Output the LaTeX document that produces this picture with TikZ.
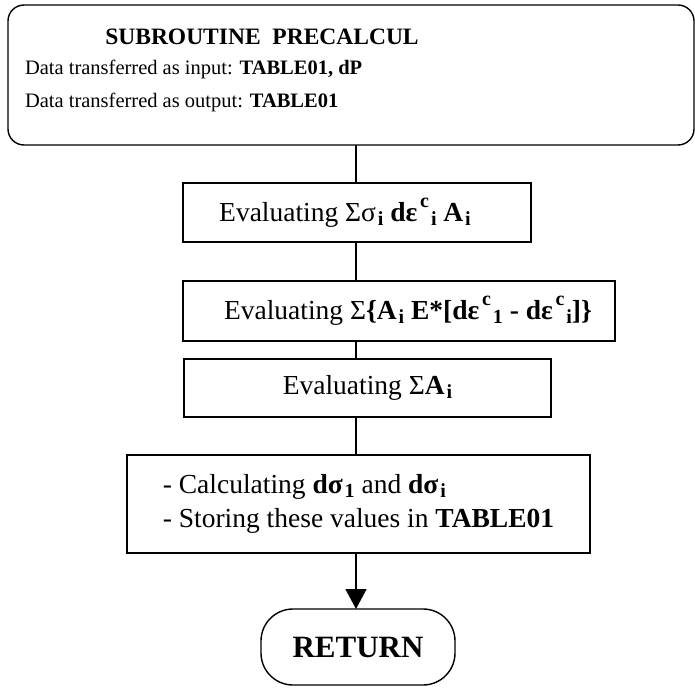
\documentclass[tikz,border=0pt]{standalone}
\usepackage{fontspec}
\setmainfont{Liberation Serif}
\usetikzlibrary{arrows.meta}

% subscript / superscript helpers for the formulas (bold, set a little apart)
\newcommand\lw[1]{\hspace{0.07em}\raisebox{-0.15em}{\fontsize{20}{20}\selectfont\bfseries #1}}
\newcommand\hi[1]{\hspace{0.1em}\raisebox{0.5em}{\fontsize{20}{20}\selectfont\bfseries #1}}

\begin{document}
\begin{tikzpicture}[x=1pt,y=-1pt,
  every node/.style={inner sep=0pt, outer sep=0pt},
  frame/.style={draw, line width=1.4pt},
  stepbox/.style={frame, rectangle},
  body/.style={font=\fontsize{27.5}{32}\selectfont},
  small/.style={font=\fontsize{20.5}{24}\selectfont},
  link/.style={line width=1.4pt},
  tip/.style={link, -{Triangle[width=21pt,length=20pt]}}]

\useasboundingbox (0,0) rectangle (695,687);

% spine of the flow chart
\coordinate (spine) at (356,0);

% header box
\node[frame, rounded corners=16pt, minimum width=686pt, minimum height=140pt] (head) at (351,75) {};
\node[anchor=base, font=\fontsize{23.5}{28}\selectfont\bfseries] (title) at (262,45) {SUBROUTINE\ \ PRECALCUL};
\node[anchor=base west, small] (in1) at (25,75) {Data transferred as input: \textbf{TABLE01, dP}};
\node[anchor=base west, small] (out1) at (25,108) {Data transferred as output: \textbf{TABLE01}};

% processing steps
\node[stepbox, body, minimum width=348pt, minimum height=59pt] (s1) at (357,212.5)
  {\hspace*{-24pt}Evaluating Σσ\lw{i} \textbf{dε}\hi{c}\lw{i} \textbf{A}\lw{i}};
\node[stepbox, body, minimum width=432pt, minimum height=60pt] (s2) at (399,311)
  {\hspace*{18pt}Evaluating Σ\textbf{\{A}\lw{i} \textbf{E*[dε}\hi{c}\lw{1} \textbf{- dε}\hi{c}\lw{i}\textbf{]\}}};
\node[stepbox, body, minimum width=367pt, minimum height=58pt] (s3) at (367.5,388)
  {Evaluating Σ\textbf{A}\lw{i}};
\node[stepbox, body, minimum width=463pt, minimum height=98pt, align=left] (s4) at (358.5,504)
  {- Calculating \textbf{dσ}\lw{1} and \textbf{dσ}\lw{i}\\[2pt]
   - Storing these values in \textbf{TABLE01}};

% terminator
\node[frame, rounded corners=32pt, minimum width=194pt, minimum height=76pt,
      font=\fontsize{31}{36}\selectfont\bfseries] (ret) at (358,647) {RETURN};

% connectors
\draw[link] (head.south -| spine) -- (s1.north -| spine);
\draw[link] (s1.south -| spine) -- (s2.north -| spine);
\draw[link] (s2.south -| spine) -- (s3.north -| spine);
\draw[link] (s3.south -| spine) -- (s4.north -| spine);
\draw[tip] (s4.south -| spine) -- (ret.north -| spine);
\end{tikzpicture}
\end{document}
